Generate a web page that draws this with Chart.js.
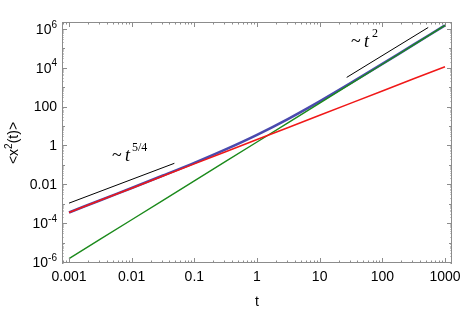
<!DOCTYPE html>
<html>
<head>
<meta charset="utf-8">
<script src="https://cdn.jsdelivr.net/npm/chart.js@4.4.1/dist/chart.umd.min.js"></script>
<style>
  html, body { margin: 0; padding: 0; background: #fff; }
  #wrap { width: 463px; height: 309px; position: relative; }
</style>
</head>
<body>
<div id="wrap"><canvas id="chart"></canvas></div>
<script>
// values
var times = [0.001, 0.00316, 0.01, 0.0316, 0.1, 0.316, 1, 3.16, 10, 31.6, 100, 316, 1000];
var redMsd = [3.55e-4, 1.5e-3, 6.3e-3, 0.0267, 0.112, 0.474, 2.0, 8.4, 35.5, 150, 630, 2670, 1.12e4];
var greenMsd = [1.5e-6, 1.5e-5, 1.5e-4, 1.5e-3, 0.015, 0.15, 1.5, 15, 150, 1500, 1.5e4, 1.5e5, 1.5e6];
var blueMsd = [3.57e-4, 1.52e-3, 6.45e-3, 0.0282, 0.127, 0.624, 3.5, 23.4, 185, 1650, 1.56e4, 1.53e5, 1.51e6];

var guideShortT = [0.001, 0.048];
var guideShortY = [1.07e-3, 0.12];
var guideLongT = [27, 540];
var guideLongY = [3160, 1.17e6];

var xTickValues = [0.001, 0.01, 0.1, 1, 10, 100, 1000];
var xTickLabels = ['0.001', '0.01', '0.1', '1', '10', '100', '1000'];
var yTickValues = [1e-6, 1e-4, 0.01, 1, 100, 1e4, 1e6];
var yTickBase = ['10', '10', '0.01', '1', '100', '10', '10'];
var yTickExp = ['-6', '-4', '', '', '', '4', '6'];

function pts(xs, ys) {
    var out = [];
    for (var i = 0; i < xs.length; i++) out.push({ x: xs[i], y: ys[i] });
    return out;
}

var frameColor = '#8c8c8c';
var sans = '"Liberation Sans", Arial, sans-serif';
var serif = '"Liberation Serif", "Times New Roman", serif';

// frame, inward ticks and labels, Mathematica style
var framePlugin = {
    id: 'frame',
    afterDraw: function (chart) {
        var ctx = chart.ctx;
        var a = chart.chartArea;
        var sx = chart.scales.x, sy = chart.scales.y;
        ctx.save();
        ctx.strokeStyle = frameColor;
        ctx.lineWidth = 1;
        ctx.strokeRect(a.left + 0.5, a.top + 0.5, a.right - a.left - 1, a.bottom - a.top - 1);

        ctx.beginPath();
        // x ticks, top and bottom
        for (var e = -4; e <= 3; e++) {
            for (var m = 1; m <= 9; m++) {
                var v = m * Math.pow(10, e);
                if (v < sx.min || v > sx.max) continue;
                var px = Math.round(sx.getPixelForValue(v)) + 0.5;
                var len = m === 1 ? 5 : 2.5;
                ctx.moveTo(px, a.bottom); ctx.lineTo(px, a.bottom - len);
                ctx.moveTo(px, a.top); ctx.lineTo(px, a.top + len);
            }
        }
        // y ticks, left and right
        for (var e2 = -7; e2 <= 6; e2++) {
            for (var m2 = 1; m2 <= 9; m2++) {
                var v2 = m2 * Math.pow(10, e2);
                if (v2 < sy.min || v2 > sy.max) continue;
                var py = Math.round(sy.getPixelForValue(v2)) + 0.5;
                var len2 = m2 === 1 ? (e2 % 2 === 0 ? 5 : 3) : 1.5;
                ctx.moveTo(a.left, py); ctx.lineTo(a.left + len2, py);
                ctx.moveTo(a.right, py); ctx.lineTo(a.right - len2, py);
            }
        }
        ctx.stroke();

        // tick labels
        ctx.fillStyle = '#000';
        ctx.font = '14px ' + sans;
        ctx.textAlign = 'center';
        ctx.textBaseline = 'middle';
        xTickValues.forEach(function (v, i) {
            ctx.fillText(xTickLabels[i], sx.getPixelForValue(v), 277);
        });

        yTickValues.forEach(function (v, i) {
            var py = sy.getPixelForValue(v);
            var right = 57;
            ctx.textBaseline = 'middle';
            ctx.textAlign = 'left';
            ctx.font = '10px ' + sans;
            var ew = yTickExp[i] ? ctx.measureText(yTickExp[i]).width : 0;
            ctx.font = '14px ' + sans;
            var bw = ctx.measureText(yTickBase[i]).width;
            ctx.fillText(yTickBase[i], right - ew - bw, py + 1);
            if (yTickExp[i]) {
                ctx.font = '10px ' + sans;
                ctx.fillText(yTickExp[i], right - ew, py - 4);
            }
        });

        // axis titles
        ctx.font = '14px ' + sans;
        ctx.textAlign = 'center';
        ctx.fillText('t', (a.left + a.right) / 2, 302);

        ctx.save();
        ctx.translate(14, 143);
        ctx.rotate(-Math.PI / 2);
        ctx.textAlign = 'left';
        var w1 = ctx.measureText('<x').width;
        var w3 = ctx.measureText('(t)>').width;
        ctx.font = '10px ' + sans;
        var w2 = ctx.measureText('2').width;
        var x0 = -(w1 + w2 + w3) / 2;
        ctx.font = '14px ' + sans;
        ctx.fillText('<x', x0, 0);
        ctx.font = '10px ' + sans;
        ctx.fillText('2', x0 + w1, -5);
        ctx.font = '14px ' + sans;
        ctx.fillText('(t)>', x0 + w1 + w2, 0);
        ctx.restore();

        // power law annotations
        ctx.textAlign = 'left';
        ctx.textBaseline = 'alphabetic';
        ctx.font = '18px ' + serif;
        ctx.fillText('~', 112, 161);
        ctx.font = 'italic 18px ' + serif;
        ctx.fillText('t', 125, 161);
        ctx.font = '12px ' + serif;
        ctx.fillText('5/4', 132, 151);

        ctx.font = '18px ' + serif;
        ctx.fillText('~', 351, 47);
        ctx.font = 'italic 18px ' + serif;
        ctx.fillText('t', 364, 47);
        ctx.font = '12px ' + serif;
        ctx.fillText('2', 372, 37);
        ctx.restore();
    }
};

var ctx = document.getElementById('chart');
var chart = new Chart(ctx, {
    type: 'scatter',
    data: {
        datasets: [
            { data: pts(times, redMsd), borderColor: '#f01818', borderWidth: 1.5 },
            { data: pts(times, greenMsd), borderColor: '#1b8a1b', borderWidth: 1.4 },
            { data: pts(times, blueMsd), borderColor: '#4a4aae', borderWidth: 2.6, tension: 0.3 },
            { data: pts(guideShortT, guideShortY), borderColor: '#000', borderWidth: 1 },
            { data: pts(guideLongT, guideLongY), borderColor: '#000', borderWidth: 1 }
        ]
    },
    options: {
        responsive: true,
        maintainAspectRatio: false,
        animation: false,
        showLine: true,
        elements: { point: { radius: 0, hoverRadius: 0 } },
        layout: { padding: { left: 62, top: 22, right: 11, bottom: 46 } },
        plugins: { legend: { display: false }, tooltip: { enabled: false } },
        scales: {
            x: { type: 'logarithmic', display: false, min: Math.pow(10, -3.112), max: Math.pow(10, 3.112) },
            y: { type: 'logarithmic', display: false, min: Math.pow(10, -6.05), max: Math.pow(10, 6.35) }
        }
    },
    plugins: [framePlugin]
});
</script>
</body>
</html>
